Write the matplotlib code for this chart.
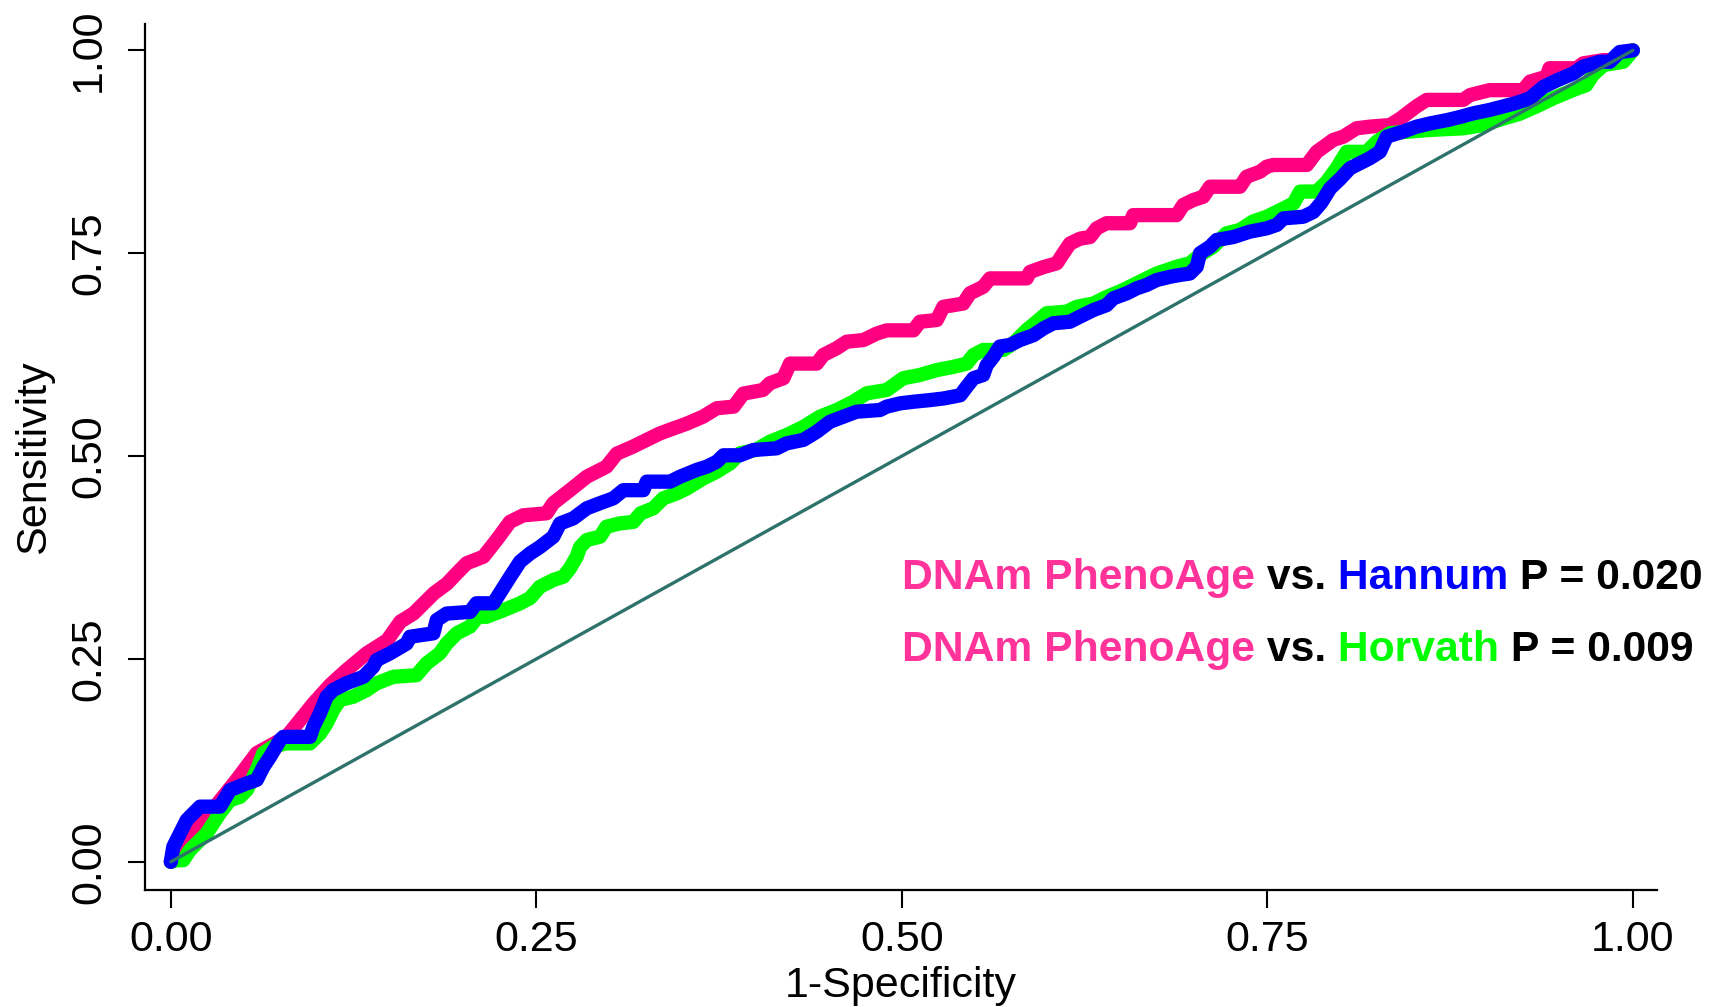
import matplotlib
matplotlib.use("Agg")
import matplotlib.pyplot as plt

plt.rcParams['font.family'] = ['Liberation Sans', 'DejaVu Sans']

# ---- data ----
pink_x = [0, .0154, .0268, .045, .0588, .079, .0838, .0975, .109, .120,
          .134, .148, .157, .166, .180, .189, .1956, .2024, .2138, .223,
          .232, .241, .257, .2616, .273, .2845, .298, .305, .316, .3255,
          .3346, .3437, .3529, .364, .3734, .385, .3916, .405, .4097, .419,
          .4235, .4418, .4463, .4555, .4623, .4737, .4828, .4897, .508, .5124,
          .5239, .5284, .542, .5466, .5557, .5603, .5854, .5877, .597, .606,
          .6105, .615, .622, .6287, .6333, .640, .656, .6583, .688, .6925,
          .6994, .7062, .7108, .7313, .7359, .745, .7496, .754, .777, .7838,
          .795, .802, .811, .820, .834, .841, .852, .859, .884, .8887,
          .902, .925, .9297, .941, .943, .9616, .966, .980, .991, 1.0]
pink_y = [0, .043, .060, .101, .134, .154, .1645, .195, .218, .236,
          .257, .273, .296, .306, .331, .343, .3556, .368, .376, .397,
          .419, .427, .4295, .442, .458, .4746, .487, .503, .5116, .520,
          .528, .534, .540, .5486, .559, .561, .577, .5815, .5897, .596,
          .614, .614, .6246, .633, .641, .643, .651, .655, .655, .6656,
          .6677, .684, .688, .7006, .7087, .719, .719, .727, .733, .7376,
          .750, .762, .768, .770, .7807, .787, .787, .797, .797, .8095,
          .8156, .8197, .832, .832, .8444, .8505, .8567, .8588, .8588, .875,
          .8896, .8937, .904, .906, .908, .916, .931, .939, .939, .945,
          .951, .951, .9615, .9676, .978, .978, .984, .988, .988, 1.0]

blue_x = [0, .0017, .0063, .0109, .0131, .020, .0337, .0405, .052, .0588,
          .0633, .0679, .0747, .077, .0952, .0975, .102, .1066, .111, .120,
          .1317, .1385, .1408, .150, .1613, .1636, .1796, .1819, .1887, .2047,
          .209, .2206, .225, .232, .2389, .2457, .2525, .2616, .2662, .2753,
          .2845, .2936, .3027, .3095, .3232, .3255, .3415, .3483, .3597, .3666,
          .3734, .378, .3893, .3984, .4144, .4213, .4327, .4418, .4509, .460,
          .469, .485, .4897, .4988, .508, .519, .5284, .540, .5444, .549,
          .5557, .558, .5626, .567, .574, .5808, .590, .597, .6036, .615,
          .622, .631, .640, .6447, .654, .6607, .6675, .6743, .6834, .690,
          .697, .7017, .704, .7108, .7154, .7268, .738, .7496, .7565, .761,
          .7746, .7815, .787, .793, .800, .8065, .8157, .820, .827, .8317,
          .843, .852, .8613, .8727, .882, .891, .902, .9114, .920, .9297,
          .9388, .948, .9593, .966, .9775, .9843, .991, 1.0]
blue_y = [0, .0186, .035, .0515, .0556, .068, .068, .0885, .0967, .101,
          .117, .1295, .150, .154, .154, .1665, .183, .2035, .2117, .220,
          .228, .2405, .2487, .257, .269, .2774, .2816, .298, .306, .308,
          .3186, .3186, .331, .351, .370, .380, .388, .4007, .417, .4233,
          .4357, .442, .448, .458, .458, .4685, .4685, .4746, .483, .487,
          .493, .501, .501, .5075, .5096, .5158, .520, .530, .5424, .5486,
          .5547, .5568, .561, .565, .567, .569, .571, .575, .5855, .596,
          .600, .612, .6225, .635, .637, .643, .649, .6575, .6637, .6656,
          .672, .680, .686, .6945, .7007, .7068, .711, .717, .721, .7232,
          .725, .7334, .750, .758, .7664, .770, .7766, .7807, .785, .793,
          .795, .801, .8125, .830, .842, .8547, .863, .867, .875, .8937,
          .900, .906, .910, .914, .918, .9225, .9266, .931, .935, .941,
          .955, .963, .9717, .980, .986, .986, .998, 1.0]

green_x = [0, .004, .0085, .0131, .0177, .0245, .029, .0336, .0405, .0473,
           .052, .0588, .0633, .070, .079, .0952, .102, .1066, .111, .1157,
           .1248, .134, .1408, .1522, .168, .175, .184, .1887, .1956, .2047,
           .210, .216, .2274, .2389, .2457, .2525, .2616, .2685, .273, .2776,
           .280, .2845, .2936, .298, .307, .3164, .3214, .330, .3369, .346,
           .3529, .3643, .3734, .3825, .3893, .400, .4097, .4213, .4327, .444,
           .4555, .4668, .476, .4897, .501, .5124, .5239, .5352, .5444, .549,
           .5557, .5694, .5763, .5854, .5923, .599, .6128, .6196, .631, .640,
           .6515, .663, .6743, .688, .697, .704, .713, .722, .7313, .740,
           .7496, .7587, .768, .7724, .7838, .7906, .7974, .8043, .818, .8248,
           .834, .8613, .884, .8977, .9114, .9228, .934, .9456, .9616, .968,
           .9727, .980, .9935, 1.0]
green_y = [0, .002, .002, .0145, .0228, .035, .0474, .060, .076, .080,
           .0885, .113, .134, .142, .146, .146, .158, .1707, .187, .1995,
           .2035, .2117, .220, .228, .230, .2446, .257, .269, .2816, .290,
           .302, .302, .310, .3186, .325, .339, .3473, .3514, .3617, .376,
           .388, .3966, .4007, .413, .417, .419, .4295, .4357, .448, .454,
           .460, .4726, .4808, .491, .5035, .5075, .5177, .526, .536, .5486,
           .5568, .567, .5774, .5815, .596, .600, .606, .610, .614, .6246,
           .6308, .6308, .639, .6554, .6656, .676, .678, .684, .688, .696,
           .7047, .715, .725, .7334, .7376, .748, .758, .7745, .7787, .789,
           .795, .803, .8115, .826, .826, .838, .8547, .875, .875, .8875,
           .898, .902, .904, .908, .916, .922, .931, .941, .953, .957,
           .970, .982, .986, 1.0]

diag_x = [0, 1]
diag_y = [0, 1]

tick_vals = [0.00, 0.25, 0.50, 0.75, 1.00]
tick_labels = ["0.00", "0.25", "0.50", "0.75", "1.00"]

line1 = [("DNAm PhenoAge", "pink_t"), (" vs.", "black"), (" Hannum", "blue"), (" P = 0.020", "black")]
line2 = [("DNAm PhenoAge", "pink_t"), (" vs.", "black"), (" Horvath", "green"), (" P = 0.009", "black")]

colors = {"pink": "#FF0080", "pink_t": "#FF3399", "blue": "#0000FF",
          "green": "#00FF00", "diag": "#2E726C", "black": "#000000"}

# ---- figure ----
W, H, DPI = 1717, 1007, 100
fig = plt.figure(figsize=(W / DPI, H / DPI), dpi=DPI)
ax = fig.add_axes([144.5 / W, 1 - 890.3 / H, (1656.8 - 144.5) / W, (890.3 - 24.1) / H])

lw = 10.3
kw = dict(solid_capstyle='round', solid_joinstyle='round', linewidth=lw)
ax.plot(pink_x, pink_y, color=colors["pink"], **kw)
ax.plot(green_x, green_y, color=colors["green"], **kw)
ax.plot(blue_x, blue_y, color=colors["blue"], **kw)
ax.plot(diag_x, diag_y, color=colors["diag"], linewidth=2.4, solid_capstyle='round')

ax.set_xlim(-0.018, 1.0164)
ax.set_ylim(-0.0351, 1.0324)

for s in ['top', 'right']:
    ax.spines[s].set_visible(False)
for s in ['left', 'bottom']:
    ax.spines[s].set_linewidth(1.6)

fs = 31
ax.set_xticks(tick_vals)
ax.set_xticklabels(tick_labels)
ax.set_yticks(tick_vals)
ax.set_yticklabels(tick_labels, rotation=90, va='center')
ax.tick_params(axis='both', direction='out', length=12.6, width=1.5, labelsize=fs)
ax.tick_params(axis='x', pad=8.5)
ax.tick_params(axis='y', pad=13)

ax.set_xlabel("1-Specificity", fontsize=fs)
ax.xaxis.set_label_coords(0.5, -0.087)
ax.set_ylabel("Sensitivity", fontsize=fs)
ax.yaxis.set_label_coords(-0.060, 0.5)

# ---- multi-coloured annotation ----
renderer = fig.canvas.get_renderer()
def draw_line(parts, x0, y0):
    xd, yd = ax.transData.transform((x0, y0))
    for txt, c in parts:
        xx, yy = ax.transData.inverted().transform((xd, yd))
        t = ax.text(xx, yy, txt, color=colors[c], fontsize=30.7, fontweight='bold',
                    ha='left', va='baseline')
        bb = t.get_window_extent(renderer)
        xd = bb.x1

draw_line(line1, 0.50, 0.336)
draw_line(line2, 0.50, 0.247)

fig.savefig("out.png", dpi=DPI)
